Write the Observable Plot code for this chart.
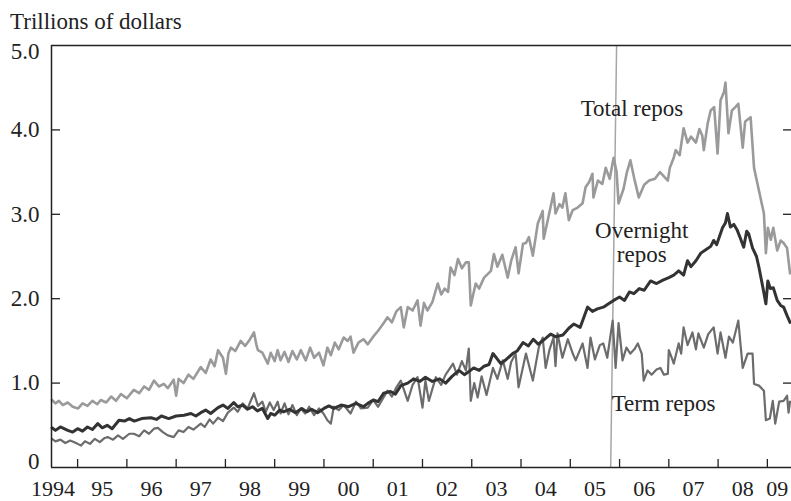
<!DOCTYPE html>
<html>
<head>
<meta charset="utf-8">
<script src="https://cdn.jsdelivr.net/npm/d3@7"></script>
<script src="https://cdn.jsdelivr.net/npm/@observablehq/plot@0.6"></script>
<style>
  html, body { margin: 0; padding: 0; background: #fff; }
  #wrap { position: relative; width: 791px; height: 501px; overflow: hidden; }
  #title { position: absolute; left: 10px; top: 10px; font: 23px/23px "Liberation Serif", "Times New Roman", serif; color: #222; white-space: nowrap; }
  #chart svg { display: block; }
</style>
</head>
<body>
<div id="wrap">
  <div id="chart"></div>
  <div id="title">Trillions of dollars</div>
</div>
<script>
// ---- Data (trillions of dollars, decimal years) ----
const yTicks = [0, 1, 2, 3, 4, 5];
const yTickLabels = ["0", "1.0", "2.0", "3.0", "4.0", "5.0"];
const xTickYears = [1995, 1996, 1997, 1998, 1999, 2000, 2001, 2002, 2003, 2004, 2005, 2006, 2007, 2008, 2009];
const xLabelYears = [1994.5, 1995.5, 1996.5, 1997.5, 1998.5, 1999.5, 2000.5, 2001.5, 2002.5, 2003.5, 2004.5, 2005.5, 2006.5, 2007.5, 2008.5, 2009.2];
const xLabels = ["1994", "95", "96", "97", "98", "99", "00", "01", "02", "03", "04", "05", "06", "07", "08", "09"];

const totalRepos = [
[1994.48,0.80],[1994.55,0.76],[1994.62,0.79],[1994.70,0.74],[1994.80,0.77],[1994.90,0.72],[1995.01,0.70],[1995.10,0.76],
[1995.20,0.73],[1995.30,0.79],[1995.40,0.75],[1995.47,0.80],[1995.58,0.77],[1995.68,0.84],[1995.78,0.79],[1995.88,0.87],
[1996.00,0.82],[1996.14,0.92],[1996.25,0.88],[1996.35,0.96],[1996.45,0.92],[1996.55,1.03],[1996.65,0.96],[1996.75,0.99],
[1996.83,0.94],[1996.95,1.04],[1997.00,0.85],[1997.05,1.05],[1997.15,1.00],[1997.25,1.10],[1997.35,1.05],[1997.50,1.19],
[1997.60,1.12],[1997.70,1.28],[1997.78,1.20],[1997.85,1.39],[1997.95,1.30],[1998.01,1.11],[1998.06,1.35],[1998.11,1.42],
[1998.20,1.38],[1998.31,1.50],[1998.40,1.44],[1998.50,1.52],[1998.58,1.60],[1998.63,1.45],[1998.66,1.39],[1998.75,1.36],
[1998.86,1.23],[1998.92,1.36],[1999.00,1.26],[1999.06,1.39],[1999.12,1.27],[1999.20,1.37],[1999.28,1.25],[1999.36,1.38],
[1999.45,1.28],[1999.53,1.39],[1999.63,1.27],[1999.72,1.42],[1999.80,1.30],[1999.90,1.36],[1999.99,1.21],[2000.07,1.42],
[2000.14,1.33],[2000.22,1.48],[2000.30,1.40],[2000.40,1.54],[2000.48,1.50],[2000.54,1.55],[2000.60,1.36],[2000.70,1.48],
[2000.80,1.52],[2000.89,1.46],[2001.00,1.55],[2001.10,1.62],[2001.21,1.71],[2001.29,1.78],[2001.38,1.72],[2001.47,1.85],
[2001.56,1.90],[2001.62,1.66],[2001.70,1.90],[2001.80,1.86],[2001.90,1.98],[2001.96,1.68],[2002.03,1.95],[2002.10,1.86],
[2002.20,1.96],[2002.31,2.18],[2002.38,2.05],[2002.45,2.12],[2002.52,2.08],[2002.57,2.37],[2002.65,2.28],[2002.72,2.47],
[2002.80,2.36],[2002.88,2.43],[2002.94,2.43],[2002.98,1.92],[2003.08,2.18],[2003.15,2.12],[2003.25,2.25],[2003.39,2.33],
[2003.45,2.53],[2003.52,2.38],[2003.62,2.52],[2003.73,2.25],[2003.80,2.45],[2003.89,2.61],[2003.95,2.30],[2004.04,2.65],
[2004.10,2.66],[2004.16,2.73],[2004.24,2.51],[2004.34,2.89],[2004.44,3.04],[2004.46,2.71],[2004.55,2.95],[2004.66,3.25],
[2004.70,3.01],[2004.78,3.12],[2004.84,3.08],[2004.90,3.25],[2004.97,2.93],[2005.05,3.05],[2005.15,3.08],[2005.25,3.13],
[2005.31,3.32],[2005.38,3.38],[2005.45,3.48],[2005.47,3.20],[2005.56,3.40],[2005.65,3.36],[2005.72,3.55],[2005.80,3.42],
[2005.88,3.67],[2005.94,3.50],[2005.98,3.13],[2006.08,3.30],[2006.15,3.50],[2006.22,3.64],[2006.30,3.42],[2006.39,3.20],
[2006.50,3.35],[2006.60,3.40],[2006.72,3.42],[2006.82,3.50],[2006.98,3.40],[2007.02,3.55],[2007.10,3.67],[2007.14,3.76],
[2007.22,3.70],[2007.30,4.02],[2007.38,3.85],[2007.45,3.92],[2007.55,3.85],[2007.62,4.01],[2007.68,3.93],[2007.71,3.76],
[2007.79,4.08],[2007.85,4.23],[2007.92,4.27],[2007.99,3.72],[2008.05,4.35],[2008.12,4.45],[2008.15,4.56],[2008.21,3.96],
[2008.28,4.23],[2008.35,4.27],[2008.41,4.31],[2008.50,3.79],[2008.55,4.10],[2008.66,4.15],[2008.73,3.55],[2008.83,3.28],
[2008.93,3.01],[2008.97,2.54],[2009.01,2.84],[2009.07,2.70],[2009.12,2.84],[2009.20,2.57],[2009.27,2.69],[2009.33,2.66],
[2009.40,2.60],[2009.46,2.30]
];

const overnightRepos = [
[1994.48,0.47],[1994.55,0.44],[1994.65,0.48],[1994.80,0.44],[1994.90,0.42],[1995.00,0.46],[1995.10,0.43],[1995.20,0.48],
[1995.30,0.45],[1995.41,0.52],[1995.50,0.47],[1995.60,0.50],[1995.70,0.46],[1995.84,0.56],[1995.95,0.55],[1996.05,0.58],
[1996.15,0.55],[1996.30,0.58],[1996.49,0.59],[1996.60,0.57],[1996.70,0.61],[1996.85,0.58],[1997.00,0.61],[1997.16,0.62],
[1997.30,0.64],[1997.40,0.61],[1997.50,0.65],[1997.60,0.68],[1997.70,0.64],[1997.85,0.71],[1997.95,0.74],[1998.05,0.70],
[1998.17,0.77],[1998.25,0.72],[1998.35,0.74],[1998.45,0.69],[1998.55,0.72],[1998.65,0.67],[1998.75,0.70],[1998.86,0.58],
[1998.92,0.64],[1999.00,0.62],[1999.10,0.68],[1999.18,0.66],[1999.30,0.69],[1999.42,0.65],[1999.55,0.70],[1999.65,0.66],
[1999.75,0.69],[1999.87,0.65],[2000.00,0.70],[2000.10,0.73],[2000.20,0.70],[2000.35,0.74],[2000.50,0.72],[2000.65,0.76],
[2000.80,0.72],[2000.89,0.76],[2001.00,0.80],[2001.10,0.78],[2001.21,0.88],[2001.35,0.90],[2001.45,0.87],[2001.56,0.97],
[2001.70,1.00],[2001.82,1.05],[2001.95,1.02],[2002.06,1.07],[2002.20,1.02],[2002.35,1.05],[2002.47,1.00],[2002.60,1.08],
[2002.74,1.15],[2002.85,1.10],[2002.95,1.14],[2003.04,1.18],[2003.15,1.15],[2003.25,1.20],[2003.35,1.22],[2003.43,1.35],
[2003.50,1.30],[2003.59,1.23],[2003.70,1.28],[2003.83,1.35],[2003.92,1.38],[2004.04,1.48],[2004.15,1.44],[2004.25,1.52],
[2004.35,1.46],[2004.50,1.53],[2004.60,1.58],[2004.70,1.55],[2004.85,1.57],[2004.97,1.65],[2005.07,1.70],[2005.20,1.66],
[2005.35,1.90],[2005.45,1.85],[2005.55,1.88],[2005.67,1.90],[2005.80,1.95],[2005.88,1.98],[2006.00,2.02],[2006.10,1.98],
[2006.20,2.08],[2006.29,2.06],[2006.40,2.12],[2006.50,2.10],[2006.63,2.21],[2006.75,2.18],[2006.88,2.22],[2007.00,2.25],
[2007.10,2.28],[2007.20,2.33],[2007.30,2.28],[2007.38,2.45],[2007.45,2.38],[2007.55,2.45],[2007.65,2.54],[2007.75,2.58],
[2007.85,2.62],[2007.91,2.69],[2007.97,2.64],[2008.09,2.84],[2008.15,2.90],[2008.19,3.01],[2008.25,2.85],[2008.32,2.88],
[2008.39,2.81],[2008.45,2.72],[2008.52,2.61],[2008.58,2.80],[2008.62,2.77],[2008.70,2.60],[2008.78,2.50],[2008.83,2.37],
[2008.91,2.13],[2008.97,1.94],[2009.01,2.21],[2009.06,2.12],[2009.12,2.13],[2009.20,1.98],[2009.27,1.92],[2009.33,1.90],
[2009.40,1.80],[2009.46,1.72]
];

const termRepos = [
[1994.48,0.34],[1994.55,0.31],[1994.65,0.33],[1994.75,0.29],[1994.85,0.32],[1995.00,0.28],[1995.07,0.26],[1995.15,0.31],
[1995.25,0.28],[1995.35,0.34],[1995.45,0.30],[1995.55,0.35],[1995.61,0.36],[1995.72,0.33],[1995.82,0.38],[1995.92,0.34],
[1996.05,0.40],[1996.14,0.40],[1996.25,0.37],[1996.35,0.44],[1996.45,0.40],[1996.55,0.46],[1996.63,0.47],[1996.73,0.42],
[1996.83,0.38],[1996.95,0.36],[1997.05,0.44],[1997.15,0.42],[1997.25,0.48],[1997.35,0.45],[1997.50,0.52],[1997.58,0.48],
[1997.68,0.57],[1997.75,0.52],[1997.85,0.59],[1997.95,0.55],[1998.05,0.65],[1998.17,0.71],[1998.25,0.66],[1998.35,0.76],
[1998.45,0.70],[1998.58,0.88],[1998.66,0.73],[1998.75,0.78],[1998.82,0.66],[1998.90,0.77],[1998.98,0.68],[1999.06,0.78],
[1999.12,0.64],[1999.20,0.76],[1999.28,0.63],[1999.36,0.74],[1999.45,0.62],[1999.53,0.70],[1999.62,0.64],[1999.70,0.72],
[1999.80,0.62],[1999.90,0.70],[1999.99,0.64],[2000.07,0.56],[2000.14,0.52],[2000.20,0.72],[2000.30,0.68],[2000.40,0.74],
[2000.54,0.64],[2000.65,0.78],[2000.75,0.70],[2000.89,0.71],[2001.00,0.80],[2001.10,0.72],[2001.21,0.83],[2001.29,0.91],
[2001.38,0.84],[2001.47,0.95],[2001.56,1.03],[2001.70,0.79],[2001.80,0.98],[2001.90,1.07],[2002.00,0.71],[2002.06,1.03],
[2002.13,0.79],[2002.27,1.07],[2002.38,0.98],[2002.47,1.10],[2002.62,1.23],[2002.70,1.10],[2002.80,1.26],[2002.88,1.15],
[2002.94,1.41],[2002.98,0.79],[2003.05,1.00],[2003.12,0.83],[2003.20,1.08],[2003.30,0.86],[2003.43,1.18],[2003.52,1.05],
[2003.63,1.27],[2003.73,1.05],[2003.80,1.25],[2003.89,1.35],[2003.95,0.95],[2004.10,1.35],[2004.24,1.03],[2004.36,1.42],
[2004.44,1.54],[2004.50,1.18],[2004.58,1.40],[2004.66,1.54],[2004.70,1.20],[2004.74,1.59],[2004.84,1.30],[2004.95,1.52],
[2005.05,1.35],[2005.11,1.27],[2005.25,1.47],[2005.35,1.18],[2005.41,1.54],[2005.50,1.28],[2005.60,1.45],[2005.67,1.47],
[2005.75,1.30],[2005.86,1.74],[2005.92,1.18],[2005.98,1.71],[2006.06,1.27],[2006.14,1.42],[2006.22,1.35],[2006.30,1.40],
[2006.37,1.47],[2006.45,1.35],[2006.49,1.03],[2006.57,1.15],[2006.65,1.10],[2006.75,1.16],[2006.83,1.18],[2006.90,1.10],
[2006.98,1.11],[2007.00,1.39],[2007.06,1.30],[2007.10,1.23],[2007.20,1.47],[2007.25,1.35],[2007.30,1.66],[2007.38,1.45],
[2007.48,1.60],[2007.55,1.40],[2007.60,1.59],[2007.71,1.42],[2007.80,1.58],[2007.91,1.66],[2007.99,1.35],[2008.05,1.60],
[2008.15,1.30],[2008.22,1.55],[2008.30,1.48],[2008.41,1.74],[2008.50,1.18],[2008.60,1.35],[2008.70,1.35],[2008.73,0.99],
[2008.83,0.97],[2008.93,0.91],[2008.97,0.56],[2009.05,0.58],[2009.11,0.79],[2009.16,0.52],[2009.24,0.78],[2009.33,0.79],
[2009.40,0.85],[2009.43,0.65],[2009.46,0.78]
];

// series labels: [text, year, value]
const startLabels = [
  ["Total repos", 2005.21, 4.25],
  ["Term repos", 2005.84, 0.76]
];
const centerLabels = [
  ["Overnight", 2006.45, 2.81],
  ["repos", 2006.45, 2.52]
];
// slanted grey marker line: [year top, value top, year bottom, value bottom]
const markerLine = [[2005.94, 5.0, 2005.82, 0]];

// ---- Chart ----
const xDomain = [1994.47, 2009.49];
const font = "'Liberation Serif', 'Times New Roman', serif";
const ink = "#222";
const yPairs = yTicks.map((v, i) => [v, yTickLabels[i]]);

const chart = Plot.plot({
  width: 791,
  height: 501,
  marginLeft: 51,
  marginRight: 0,
  marginTop: 45,
  marginBottom: 34,
  x: {domain: xDomain, axis: null},
  y: {domain: [0, 5], axis: null},
  style: {fontFamily: font, background: "#fff", color: ink},
  marks: [
    Plot.link(markerLine, {x1: d => d[0], y1: d => d[1], x2: d => d[2], y2: d => d[3], stroke: "#a6a6a6", strokeWidth: 1.5}),
    Plot.line(totalRepos, {x: d => d[0], y: d => d[1], stroke: "#9a9a9c", strokeWidth: 2.6, strokeLinejoin: "round"}),
    Plot.line(termRepos, {x: d => d[0], y: d => d[1], stroke: "#6c6c6e", strokeWidth: 2.2, strokeLinejoin: "round"}),
    Plot.line(overnightRepos, {x: d => d[0], y: d => d[1], stroke: "#333333", strokeWidth: 3, strokeLinejoin: "round"}),
    // frame lines
    Plot.ruleY([5], {stroke: ink, strokeWidth: 1.5}),
    Plot.ruleY([0], {stroke: ink, strokeWidth: 1.5}),
    Plot.ruleX([xDomain[0]], {stroke: ink, strokeWidth: 1.5}),
    // inward ticks
    Plot.ruleY(yTicks.filter(v => v > 0 && v < 5), {insetRight: 731, stroke: ink, strokeWidth: 1.3}),
    Plot.ruleY(yTicks.filter(v => v > 0 && v < 5), {insetLeft: 732, stroke: ink, strokeWidth: 1.3}),
    Plot.ruleX(xTickYears, {insetTop: 414, stroke: ink, strokeWidth: 1.3}),
    // y labels
    Plot.text(yPairs.filter(d => d[0] > 0 && d[0] < 5), {
      y: d => d[0], text: d => d[1], frameAnchor: "left", textAnchor: "end", dx: -12, fontSize: 23, fill: ink
    }),
    Plot.text(yPairs.filter(d => d[0] === 5), {
      y: d => d[0], text: d => d[1], frameAnchor: "left", textAnchor: "end", dx: -12, dy: 6, fontSize: 23, fill: ink
    }),
    Plot.text(yPairs.filter(d => d[0] === 0), {
      y: d => d[0], text: d => d[1], frameAnchor: "left", textAnchor: "end", dx: -12, dy: -6, fontSize: 23, fill: ink
    }),
    // x labels
    Plot.text(xLabelYears.map((v, i) => [v, xLabels[i]]), {
      x: d => d[0], text: d => d[1], frameAnchor: "bottom", lineAnchor: "top", dy: 13, fontSize: 22, fill: ink
    }),
    // series labels
    Plot.text(startLabels, {
      x: d => d[1], y: d => d[2], text: d => d[0], textAnchor: "start", fontSize: 23, fill: ink
    }),
    Plot.text(centerLabels, {
      x: d => d[1], y: d => d[2], text: d => d[0], textAnchor: "middle", fontSize: 23, fill: ink
    })
  ]
});
document.getElementById("chart").appendChild(chart);
</script>
</body>
</html>
